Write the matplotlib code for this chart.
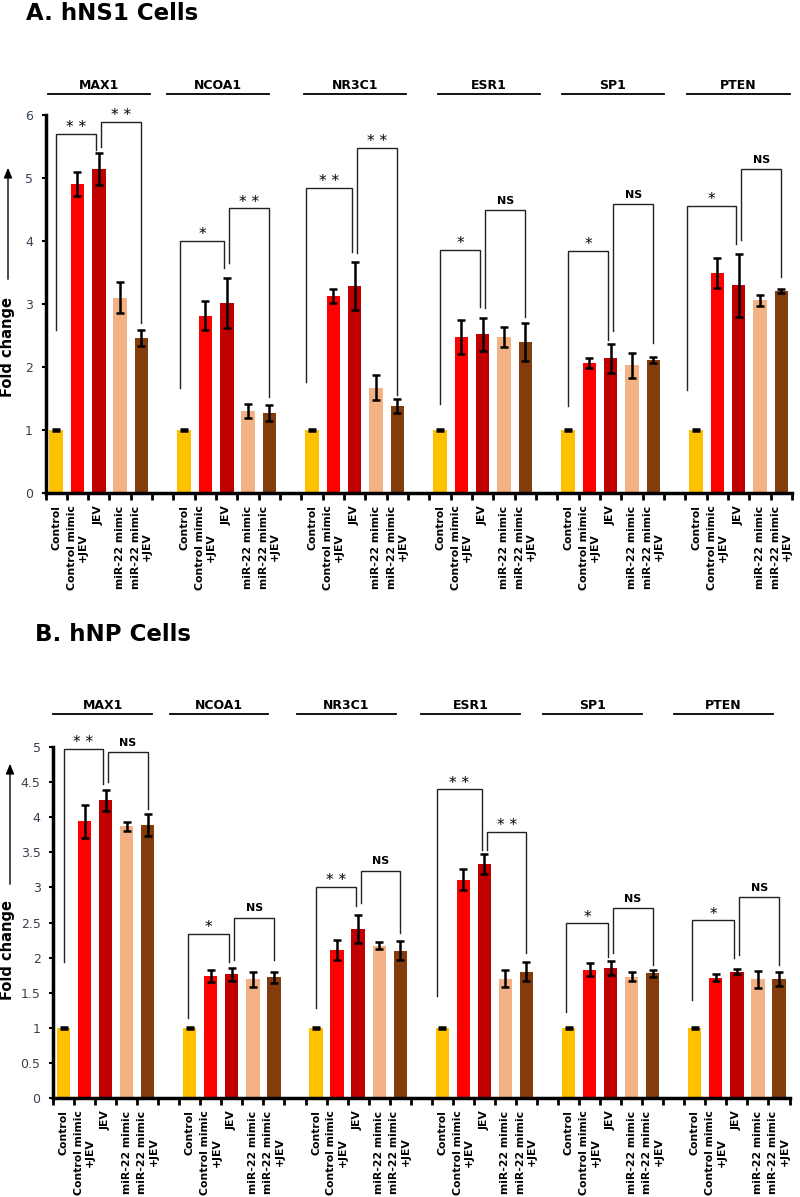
import matplotlib
matplotlib.use('Agg')
import matplotlib.pyplot as plt
from matplotlib.transforms import blended_transform_factory
from matplotlib.ticker import FixedLocator, FuncFormatter

plt.rcParams['font.family'] = ['DejaVu Sans']

genes = ['MAX1', 'NCOA1', 'NR3C1', 'ESR1', 'SP1', 'PTEN']
conditions = ['Control', 'Control mimic\n+JEV', 'JEV', 'miR-22 mimic', 'miR-22 mimic\n+JEV']
colors = ['#FFC000', '#FF0000', '#C00000', '#F4B183', '#843C0C']

# ---- Panel A: hNS1 cells ----
a_control = [1.0, 1.0, 1.0, 1.0, 1.0, 1.0]
a_control_err = [0.01, 0.01, 0.01, 0.01, 0.01, 0.01]
a_ctrl_mimic_jev = [4.91, 2.81, 3.13, 2.48, 2.06, 3.49]
a_ctrl_mimic_jev_err = [0.19, 0.23, 0.11, 0.27, 0.08, 0.24]
a_jev = [5.14, 3.02, 3.29, 2.52, 2.14, 3.30]
a_jev_err = [0.25, 0.40, 0.38, 0.26, 0.23, 0.50]
a_mir22 = [3.10, 1.30, 1.67, 2.48, 2.03, 3.06]
a_mir22_err = [0.25, 0.11, 0.20, 0.16, 0.20, 0.09]
a_mir22_jev = [2.46, 1.27, 1.38, 2.40, 2.11, 3.21]
a_mir22_jev_err = [0.12, 0.13, 0.11, 0.30, 0.05, 0.03]

# ---- Panel B: hNP cells ----
b_control = [1.0, 1.0, 1.0, 1.0, 1.0, 1.0]
b_control_err = [0.01, 0.01, 0.01, 0.01, 0.01, 0.01]
b_ctrl_mimic_jev = [3.94, 1.74, 2.11, 3.11, 1.83, 1.71]
b_ctrl_mimic_jev_err = [0.23, 0.09, 0.14, 0.15, 0.09, 0.05]
b_jev = [4.24, 1.76, 2.41, 3.33, 1.85, 1.80]
b_jev_err = [0.15, 0.09, 0.20, 0.14, 0.10, 0.04]
b_mir22 = [3.87, 1.69, 2.17, 1.70, 1.73, 1.69]
b_mir22_err = [0.06, 0.11, 0.05, 0.12, 0.07, 0.12]
b_mir22_jev = [3.89, 1.72, 2.10, 1.80, 1.78, 1.70]
b_mir22_jev_err = [0.16, 0.08, 0.13, 0.14, 0.05, 0.10]

# significance brackets: (left leg bottom, top, right leg bottom, label)
a_sig_first = [(2.58, 5.70, 5.44, '* *'), (1.67, 4.00, 3.57, '*'), (1.76, 4.84, 3.83, '* *'),
               (1.41, 3.86, 2.95, '*'), (1.38, 3.84, 2.43, '*'), (1.63, 4.56, 3.95, '*')]
a_sig_second = [(5.50, 5.89, 2.70, '* *'), (3.65, 4.52, 1.52, '* *'), (3.81, 5.48, 1.55, '* *'),
                (2.93, 4.49, 2.79, 'NS'), (2.57, 4.59, 2.38, 'NS'), (4.02, 5.14, 3.43, 'NS')]
b_sig_first = [(1.94, 4.97, 4.47, '* *'), (1.14, 2.34, 1.94, '*'), (1.28, 3.01, 2.73, '* *'),
               (1.46, 4.40, 3.53, '* *'), (1.23, 2.49, 2.01, '*'), (1.40, 2.53, 2.00, '*')]
b_sig_second = [(4.50, 4.93, 4.11, 'NS'), (1.97, 2.57, 1.97, 'NS'), (2.78, 3.24, 2.35, 'NS'),
                (3.53, 3.79, 2.06, '* *'), (2.07, 2.70, 1.89, 'NS'), (2.03, 2.86, 1.90, 'NS')]

W, H = 800, 1197
fig = plt.figure(figsize=(W / 100, H / 100), dpi=100)


def fy(py):
    return 1 - py / H


panels = [
    dict(title='A. hNS1 Cells', title_x=26, title_y=20, box=(45.5, 115, 792, 493), ymax=6, ystep=1,
         vals=[a_control, a_ctrl_mimic_jev, a_jev, a_mir22, a_mir22_jev],
         errs=[a_control_err, a_ctrl_mimic_jev_err, a_jev_err, a_mir22_err, a_mir22_jev_err],
         sig1=a_sig_first, sig2=a_sig_second,
         gline_y=94, gline_start=[-0.4, -0.8, -0.4, -0.1, -0.3, -0.4], gline_w=4.8,
         b1_left=[0, -0.2, -0.3, 0, 0, -0.4],
         ylab_y=347, arrow=(8, 282, 165)),
    dict(title='B. hNP Cells', title_x=35, title_y=641, box=(53, 747, 789.5, 1098), ymax=5, ystep=0.5,
         vals=[b_control, b_ctrl_mimic_jev, b_jev, b_mir22, b_mir22_jev],
         errs=[b_control_err, b_ctrl_mimic_jev_err, b_jev_err, b_mir22_err, b_mir22_jev_err],
         sig1=b_sig_first, sig2=b_sig_second,
         gline_y=714, gline_start=[-0.48, -0.96, -0.92, -1.0, -1.2, -1.0], gline_w=4.7,
         b1_left=[0, -0.1, 0, -0.24, -0.1, -0.14],
         ylab_y=950, arrow=(10, 887, 761)),
]

for p in panels:
    x0, y0, x1, y1 = p['box']
    ax = fig.add_axes([x0 / W, fy(y1), (x1 - x0) / W, (y1 - y0) / H])
    nslot = 6 * len(genes) - 1
    ax.set_xlim(-0.5, nslot - 0.5)
    ax.set_ylim(0, p['ymax'])
    ticks_pos, ticks_lab = [], []
    for c in range(len(conditions)):
        xs = [g * 6 + c for g in range(len(genes))]
        ax.bar(xs, p['vals'][c], width=0.63, color=colors[c], zorder=2)
        ax.errorbar(xs, p['vals'][c], yerr=p['errs'][c], fmt='none', ecolor='black',
                    elinewidth=1.8, capsize=3, capthick=1.8, zorder=3)
        ticks_pos += xs
        ticks_lab += [conditions[c]] * len(genes)

    # axes styling
    for s in ['top', 'right']:
        ax.spines[s].set_visible(False)
    ax.spines['left'].set_linewidth(2.5)
    ax.spines['bottom'].set_linewidth(2.5)
    ax.set_xticks(ticks_pos)
    ax.set_xticklabels(ticks_lab, rotation=90, fontsize=7.8, fontweight='bold',
                       va='top', ha='center', multialignment='center')
    ax.tick_params(axis='x', which='major', length=0, pad=9)
    ax.xaxis.set_minor_locator(FixedLocator([k + 0.5 for k in range(-1, nslot)]))
    ax.tick_params(axis='x', which='minor', length=5, width=2, direction='out', color='black')
    n_y = int(round(p['ymax'] / p['ystep']))
    ax.set_yticks([i * p['ystep'] for i in range(n_y + 1)])
    ax.yaxis.set_major_formatter(FuncFormatter(lambda v, pos: '%g' % v))
    ax.tick_params(axis='y', length=3, width=1.5, direction='out', labelsize=9,
                   labelcolor='#33414F', pad=6)

    # significance brackets
    for g in range(len(genes)):
        base = g * 6
        l1, t1, r1, lab1 = p['sig1'][g]
        xa, xb = base + p['b1_left'][g], base + 1.88
        ax.plot([xa, xa, xb, xb], [l1, t1, t1, r1], color='#222222', lw=1.0,
                solid_joinstyle='miter', zorder=4, clip_on=False)
        l2, t2, r2, lab2 = p['sig2'][g]
        xc, xd = base + 2.12, base + 4.0
        ax.plot([xc, xc, xd, xd], [l2, t2, t2, r2], color='#222222', lw=1.0,
                solid_joinstyle='miter', zorder=4, clip_on=False)
        for (xl, xr, top, lab) in [(xa, xb, t1, lab1), (xc, xd, t2, lab2)]:
            if lab == 'NS':
                ax.annotate(lab, ((xl + xr) / 2, top), xytext=(0, 3), textcoords='offset points',
                            ha='center', va='bottom', fontsize=8, fontweight='bold',
                            annotation_clip=False)
            else:
                ax.annotate(lab, ((xl + xr) / 2, top), xytext=(0, -1), textcoords='offset points',
                            ha='center', va='bottom', fontsize=11, annotation_clip=False)

    # gene header lines and labels
    tr = blended_transform_factory(ax.transData, fig.transFigure)
    for g, name in enumerate(genes):
        s = g * 6 + p['gline_start'][g]
        e = s + p['gline_w']
        ax.plot([s, e], [fy(p['gline_y'])] * 2, transform=tr, color='black', lw=1.3,
                clip_on=False)
        ax.text((s + e) / 2, fy(p['gline_y'] - 5), name, transform=tr, ha='center',
                va='baseline', fontsize=9, fontweight='bold')

    # title
    fig.text(p['title_x'] / W, fy(p['title_y']), p['title'],
             fontsize=16.5, fontweight='bold', ha='left', va='baseline')

    # y-label and arrow
    fig.text(8 / W, fy(p['ylab_y']), 'Fold change', rotation=90, fontsize=10.5,
             fontweight='bold', ha='center', va='center')
    axx, ya, yb = p['arrow']
    fig.patches.append(matplotlib.patches.FancyArrowPatch(
        (axx / W, fy(ya)), (axx / W, fy(yb)), transform=fig.transFigure,
        arrowstyle='-|>,head_length=6,head_width=2.5', color='black', lw=1.0))

fig.savefig('out.png', dpi=100)
